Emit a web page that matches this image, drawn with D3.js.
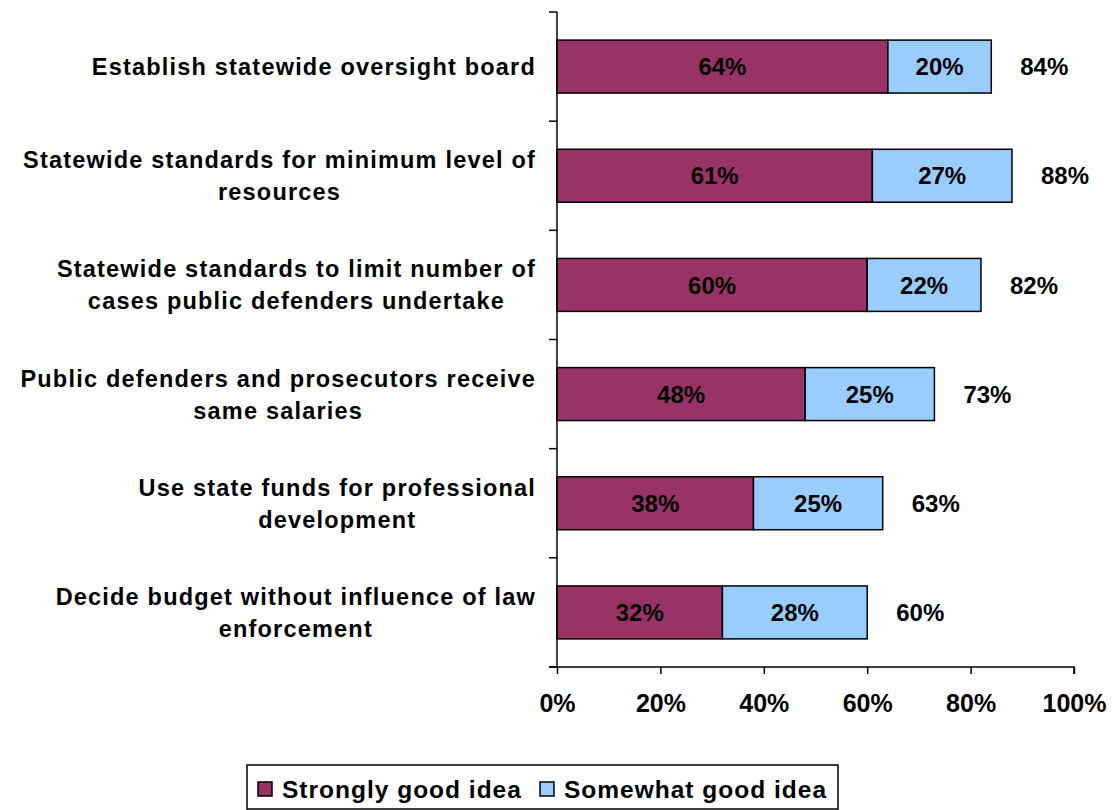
<!DOCTYPE html>
<html>
<head>
<meta charset="utf-8">
<script src="https://cdn.jsdelivr.net/npm/d3@7"></script>
<style>
  body { margin: 0; background: #fff; }
  text { font-family: "Liberation Sans", Arial, sans-serif; font-weight: bold; fill: #000; }
</style>
</head>
<body>
<svg id="chart" width="1112" height="810"></svg>
<script>
// category labels, one entry per line
var categories = [
  ["Establish statewide oversight board"],
  ["Statewide standards for minimum level of", "resources"],
  ["Statewide standards to limit number of", "cases public defenders undertake"],
  ["Public defenders and prosecutors receive", "same salaries"],
  ["Use state funds for professional", "development"],
  ["Decide budget without influence of law", "enforcement"]
];
var strongly = [64, 61, 60, 48, 38, 32];
var somewhat = [20, 27, 22, 25, 25, 28];
var seriesNames = ["Strongly good idea", "Somewhat good idea"];
var seriesColors = ["#993366", "#99ccff"];
var xTicks = [0, 20, 40, 60, 80, 100];

var margin = { top: 12, left: 557, right: 38, bottom: 143 },
    width = 1112 - margin.left - margin.right,
    height = 810 - margin.top - margin.bottom;

var svg = d3.select("#chart");
var g = svg.append("g")
    .attr("transform", "translate(" + margin.left + "," + margin.top + ")");

var x = d3.scaleLinear().domain([0, 100]).range([0, width]);
var y = d3.scaleBand().domain(d3.range(categories.length)).range([0, height]).paddingInner(0.515).paddingOuter(0.2575);
var yb = d3.scaleBand().domain(d3.range(categories.length)).range([0, height]);

var data = categories.map(function(c, i) {
  return { label: c, a: strongly[i], b: somewhat[i] };
});

// bars
var rows = g.selectAll(".row").data(data).enter().append("g").attr("class", "row");

rows.append("rect")
    .attr("x", x(0))
    .attr("y", function(d, i) { return y(i); })
    .attr("width", function(d) { return x(d.a) - x(0); })
    .attr("height", y.bandwidth())
    .attr("fill", seriesColors[0])
    .attr("stroke", "#000").attr("stroke-width", 1.5);

rows.append("rect")
    .attr("x", function(d) { return x(d.a); })
    .attr("y", function(d, i) { return y(i); })
    .attr("width", function(d) { return x(d.a + d.b) - x(d.a); })
    .attr("height", y.bandwidth())
    .attr("fill", seriesColors[1])
    .attr("stroke", "#000").attr("stroke-width", 1.5);

// segment labels
rows.append("text")
    .attr("x", function(d) { return x(d.a / 2); })
    .attr("y", function(d, i) { return y(i) + y.bandwidth() / 2; })
    .attr("dy", "0.36em").attr("text-anchor", "middle")
    .style("font-size", "24px")
    .text(function(d) { return d.a + "%"; });

rows.append("text")
    .attr("x", function(d) { return x(d.a + d.b / 2); })
    .attr("y", function(d, i) { return y(i) + y.bandwidth() / 2; })
    .attr("dy", "0.36em").attr("text-anchor", "middle")
    .style("font-size", "24px")
    .text(function(d) { return d.b + "%"; });

// totals
rows.append("text")
    .attr("x", function(d) { return x(d.a + d.b) + 29; })
    .attr("y", function(d, i) { return y(i) + y.bandwidth() / 2; })
    .attr("dy", "0.36em").attr("text-anchor", "start")
    .style("font-size", "24px")
    .text(function(d) { return (d.a + d.b) + "%"; });

// y axis
g.append("line")
    .attr("x1", 0).attr("x2", 0).attr("y1", 0).attr("y2", height)
    .attr("stroke", "#000").attr("stroke-width", 1.5);
g.selectAll(".ytick").data(d3.range(categories.length + 1)).enter().append("line")
    .attr("x1", -8).attr("x2", 0)
    .attr("y1", function(d) { return d * yb.step(); })
    .attr("y2", function(d) { return d * yb.step(); })
    .attr("stroke", "#000").attr("stroke-width", 1.5);

// category labels: block right aligned, lines centred inside it
var lab = g.selectAll(".cat").data(data).enter().append("text")
    .attr("class", "cat")
    .attr("text-anchor", "middle")
    .style("font-size", "23.5px")
    .style("letter-spacing", "1.2px");
lab.each(function(d, i) {
  var t = d3.select(this), n = d.label.length;
  d.label.forEach(function(line, k) {
    t.append("tspan")
        .attr("x", 0)
        .attr("y", (k - (n - 1) / 2) * 32)
        .attr("dy", "0.36em")
        .text(line);
  });
  var w = d3.max(t.selectAll("tspan").nodes(), function(s) { return s.getComputedTextLength(); });
  t.attr("transform", "translate(" + (-21 - w / 2) + "," + (yb(i) + yb.bandwidth() / 2) + ")");
});

// x axis
var xAxis = g.append("g")
    .attr("transform", "translate(0," + height + ")")
    .call(d3.axisBottom(x).tickValues(xTicks).tickSize(7).tickPadding(20)
      .tickFormat(function(d) { return d + "%"; }));
xAxis.select(".domain").attr("stroke-width", 1.5).attr("d", "M-8,0H" + width + "V7");
xAxis.selectAll(".tick line").attr("stroke-width", 1.5);
xAxis.selectAll(".tick text")
    .style("font-size", "25px")
    .style("font-family", "'Liberation Sans', Arial, sans-serif")
    .style("font-weight", "bold")
    .attr("fill", "#000");

// legend
var legend = svg.append("g").attr("transform", "translate(247,765)");
legend.append("rect")
    .attr("x", 0).attr("y", 0).attr("width", 591).attr("height", 44)
    .attr("fill", "#fff").attr("stroke", "#000").attr("stroke-width", 1.5);
var legX = [11, 293];
seriesNames.forEach(function(name, i) {
  var it = legend.append("g").attr("transform", "translate(" + legX[i] + ",0)");
  it.append("rect")
      .attr("x", 0).attr("y", 17).attr("width", 14).attr("height", 14)
      .attr("fill", seriesColors[i]).attr("stroke", "#000").attr("stroke-width", 1.5);
  it.append("text")
      .attr("x", 24).attr("y", 24).attr("dy", "0.36em")
      .style("font-size", "24.5px")
      .style("letter-spacing", "1px")
      .text(name);
});
</script>
</body>
</html>
